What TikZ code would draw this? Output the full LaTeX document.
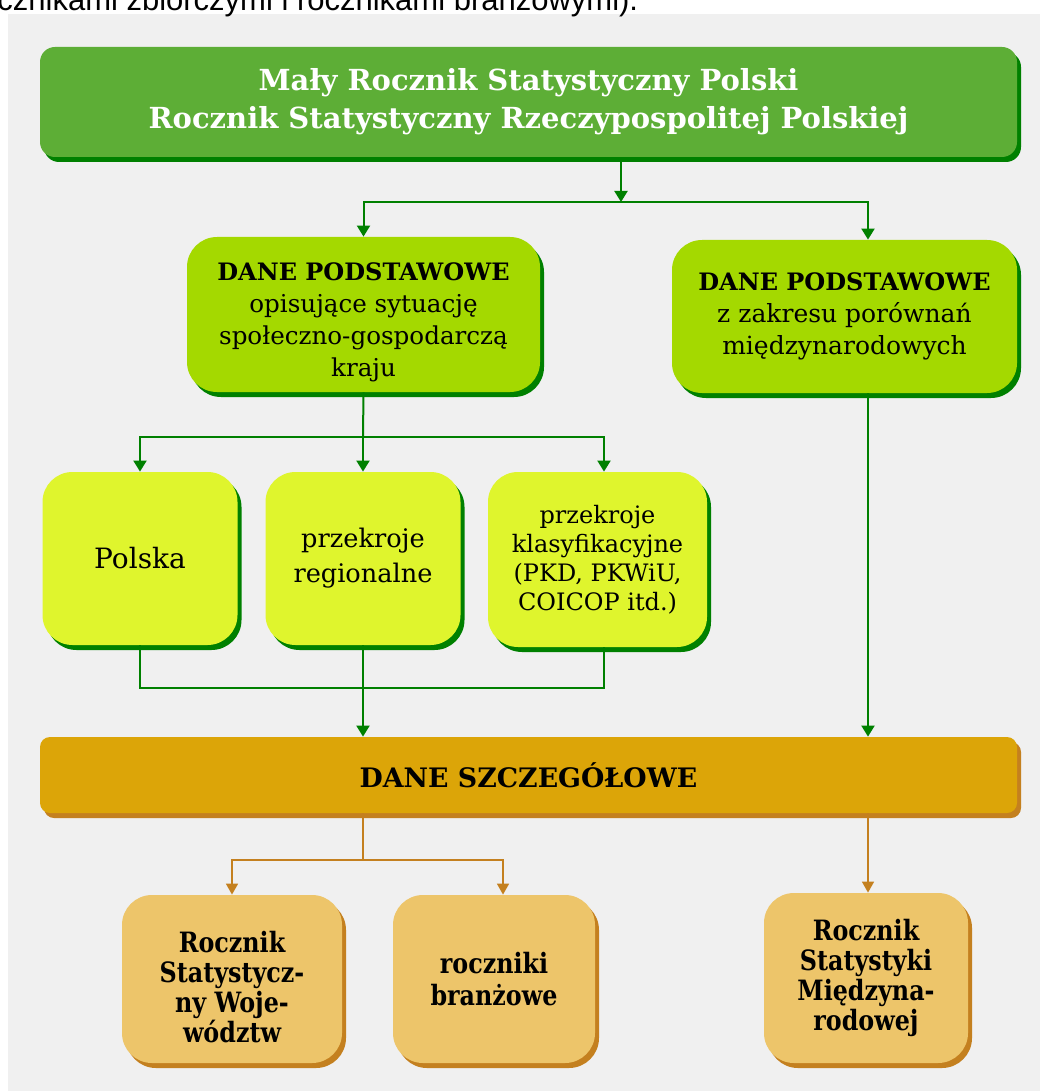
\documentclass[tikz,border=0pt]{standalone}
\usepackage{fontspec}
\setmainfont{DejaVu Serif}
\newfontfamily\pagefont{Liberation Sans}
\newfontfamily\narrowfont[FakeStretch=0.85]{DejaVu Serif}
\usetikzlibrary{arrows.meta,shadows}
\definecolor{pagegray}{HTML}{F0F0F0}
\definecolor{titlegreen}{HTML}{5DAE36}
\definecolor{darkgreen}{HTML}{008000}
\definecolor{limegreen}{HTML}{A4D900}
\definecolor{paleLime}{HTML}{DFF52D}
\definecolor{goldbox}{HTML}{DCA508}
\definecolor{brownline}{HTML}{C4801F}
\definecolor{tanbox}{HTML}{EDC56A}
\begin{document}
\begin{tikzpicture}[x=0.5pt,y=-0.5pt]
		\tikzset{box/.style = {inner sep=0pt, align=center, text=black}}
		\tikzset{greenshadow/.style = {drop shadow={shadow xshift=2pt, shadow yshift=-2.5pt, fill=darkgreen, opacity=1}}}
		\tikzset{brownshadow/.style = {drop shadow={shadow xshift=2pt, shadow yshift=-2.5pt, fill=brownline, opacity=1}}}
		\tikzset{gline/.style = {darkgreen, line width=1pt}}
		\tikzset{garrow/.style = {gline, -{Triangle[width=6.5pt,length=5.5pt]}}}
		\tikzset{bline/.style = {brownline, line width=0.8pt}}
		\tikzset{barrow/.style = {bline, -{Triangle[width=6pt,length=5.5pt]}}}
		\useasboundingbox (0,0) rectangle (1040,1091);
		\fill[pagegray] (8,14) rectangle (1040,1091);
		\node[anchor=base west, inner sep=0pt, font=\pagefont\fontsize{15.5}{16}\selectfont] (pagetext) at (-3,11) {cznikami zbiorczymi i rocznikami branżowymi).};
		% gorny poziom
		\node[box, greenshadow, fill=titlegreen, rounded corners=7.5pt, minimum width=488.5pt, minimum height=55pt, text=white, font=\bfseries\fontsize{14.5}{19}\selectfont] (top) at (528.5,102) {Mały Rocznik Statystyczny Polski\\Rocznik Statystyczny Rzeczypospolitej Polskiej};
		\node[box, greenshadow, fill=limegreen, rounded corners=15pt, minimum width=176.5pt, minimum height=77.5pt, font=\fontsize{12.3}{16}\selectfont] (podst) at (363.5,314.5) {{\bfseries\fontsize{12}{16}\selectfont\rule{0pt}{17pt}DANE PODSTAWOWE}\\opisujące sytuację\\społeczno-gospodarczą\\kraju};
		\node[box, greenshadow, fill=limegreen, rounded corners=15pt, minimum width=172.5pt, minimum height=76.5pt, font=\fontsize{12.5}{16}\selectfont] (porown) at (844.5,316.5) {{\bfseries\fontsize{12}{16}\selectfont DANE PODSTAWOWE}\\z zakresu porównań\\międzynarodowych};
		% przekroje
		\node[box, greenshadow, fill=paleLime, rounded corners=15pt, minimum width=97.5pt, minimum height=86.5pt, font=\fontsize{14}{16}\selectfont] (polska) at (140,558.5) {Polska};
		\node[box, greenshadow, fill=paleLime, rounded corners=15pt, minimum width=97.5pt, minimum height=86.5pt, font=\fontsize{12.8}{17.5}\selectfont] (region) at (363,558.5) {przekroje\\regionalne};
		\node[box, greenshadow, fill=paleLime, rounded corners=15pt, minimum width=109.5pt, minimum height=87.5pt, font=\fontsize{12}{14.5}\selectfont] (klasyf) at (597.5,559.5) {przekroje\\klasyfikacyjne\\(PKD, PKWiU,\\COICOP itd.)};
		% dane szczegolowe
		\node[box, brownshadow, fill=goldbox, rounded corners=5pt, minimum width=488.5pt, minimum height=38pt, font=\bfseries\fontsize{13.4}{16}\selectfont] (szczeg) at (528.5,775) {DANE SZCZEGÓŁOWE};
		\node[box, brownshadow, fill=tanbox, rounded corners=15pt, minimum width=110pt, minimum height=84pt, font=\narrowfont\bfseries\fontsize{14}{15}\selectfont] (wojew) at (232,979) {\rule{0pt}{19pt}Rocznik\\Statystycz-\\ny Woje-\\wództw};
		\node[box, brownshadow, fill=tanbox, rounded corners=15pt, minimum width=101pt, minimum height=84pt, font=\narrowfont\bfseries\fontsize{14}{16}\selectfont] (branz) at (494,979) {roczniki\\branżowe};
		\node[box, brownshadow, fill=tanbox, rounded corners=15pt, minimum width=102pt, minimum height=85pt, font=\narrowfont\bfseries\fontsize{14}{15}\selectfont] (miedzy) at (866,978) {Rocznik\\Statystyki\\Międzyna-\\rodowej};
		% punkty rozgalezien
		\coordinate (split1) at (621,202);
		\coordinate (split2) at (363,437);
		\coordinate (merge) at (363,688);
		\coordinate (split3) at (363,860);
		\coordinate (axR) at (868,0);
		\coordinate (axK) at (604,0);
		\coordinate (axB) at (503,0);
		% polaczenia
		\draw[garrow] (top.south -| split1) -- (split1);
		\draw[garrow] (split1) -| (podst.north);
		\draw[garrow] (split1) -| (porown.north -| axR);
		\draw[gline] (podst.south) -- (split2);
		\draw[garrow] (split2) -| (polska.north);
		\draw[garrow] (split2) -- (region.north);
		\draw[garrow] (split2) -| (klasyf.north -| axK);
		\draw[gline] (polska.south) |- (merge) -| (klasyf.south -| axK);
		\draw[garrow] (region.south) -- (szczeg.north -| region.south);
		\draw[garrow] (porown.south -| axR) -- (szczeg.north -| axR);
		\draw[bline] (szczeg.south -| split3) -- (split3);
		\draw[barrow] (split3) -| (wojew.north);
		\draw[barrow] (split3) -| (branz.north -| axB);
		\draw[barrow] (szczeg.south -| axR) -- (miedzy.north -| axR);
\end{tikzpicture}
\end{document}
